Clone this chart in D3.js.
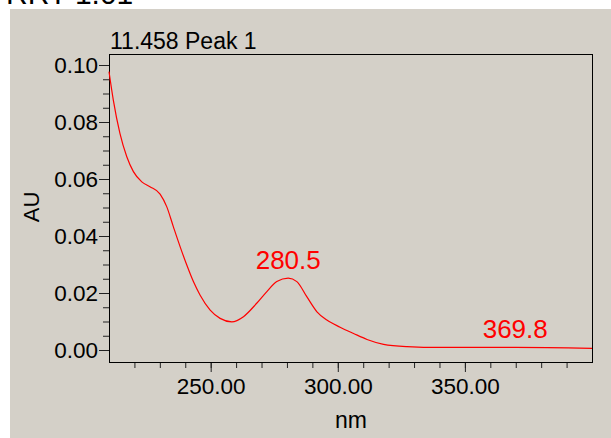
<!DOCTYPE html>
<html>
<head>
<meta charset="utf-8">
<script src="https://cdn.jsdelivr.net/npm/d3@7"></script>
<style>
  body { margin: 0; background: #fff; }
  svg { display: block; }
  text { font-family: "Liberation Sans", Arial, sans-serif; }
</style>
</head>
<body>
<svg id="chart"></svg>
<script>
// spectrum
const wavelengths = [210, 211.7, 214.3, 217, 219.6, 222.9, 226.1, 230.1, 232.7, 235.3, 238, 240.6, 243.2, 245.8, 249.8, 253.7, 258.3, 262.9, 268.1, 272.1, 276, 280.5, 283.9, 287.8, 291.8, 295.7, 300.9, 306.2, 311.5, 318, 327.2, 340.3, 369.8, 400]
const absorbance = [0.0977, 0.0877, 0.076, 0.0678, 0.0626, 0.059, 0.0573, 0.0547, 0.0503, 0.0433, 0.0362, 0.0298, 0.024, 0.0193, 0.014, 0.0111, 0.0099, 0.0117, 0.0164, 0.0205, 0.024, 0.0252, 0.024, 0.0187, 0.0134, 0.0105, 0.008, 0.0058, 0.0037, 0.002, 0.0012, 0.0009, 0.0009, 0.0006]

// labelled maxima
const peakNm = [280.5, 369.8]
const peakAU = [0.0252, 0.0009]

const xTicks = [250, 300, 350]
const yTicks = [0, 0.02, 0.04, 0.06, 0.08, 0.10]

const width = 611
const height = 438
const margin = { left: 109, top: 54, right: 592, bottom: 362 }

const svg = d3.select("#chart")
  .attr("width", width)
  .attr("height", height)

// caption above the panel, cut off at the top as in the source
svg.append("text")
  .attr("x", 6)
  .attr("y", 4)
  .attr("font-family", "Liberation Serif, Times New Roman, serif")
  .attr("font-size", 30)
  .text("RRT 1.01")

svg.append("rect")
  .attr("x", 10)
  .attr("y", 9)
  .attr("width", width - 10)
  .attr("height", height - 9)
  .attr("fill", "#d4d0c8")

const x = d3.scaleLinear().domain([210, 400]).range([margin.left, margin.right])
const y = d3.scaleLinear().domain([-12 / 2850, 0.10 + 11 / 2850]).range([margin.bottom, margin.top])

// minor ticks
svg.append("g")
  .attr("transform", `translate(0,${margin.bottom})`)
  .call(d3.axisBottom(x).tickValues(d3.range(220, 400, 10)).tickSize(6).tickFormat(""))
  .call(g => g.select(".domain").remove())

svg.append("g")
  .attr("transform", `translate(${margin.left},0)`)
  .call(d3.axisLeft(y).tickValues(d3.range(0, 0.1001, 0.005)).tickSize(6).tickFormat(""))
  .call(g => g.select(".domain").remove())

// major ticks + labels
const xAxis = svg.append("g")
  .attr("transform", `translate(0,${margin.bottom})`)
  .call(d3.axisBottom(x).tickValues(xTicks).tickSize(10).tickPadding(6).tickFormat(d3.format(".2f")))
xAxis.select(".domain").remove()
xAxis.selectAll("text").attr("font-size", 22.5).attr("font-family", "Liberation Sans, Arial, sans-serif").attr("fill", "#000")

const yAxis = svg.append("g")
  .attr("transform", `translate(${margin.left},0)`)
  .call(d3.axisLeft(y).tickValues(yTicks).tickSize(10).tickPadding(1).tickFormat(d3.format(".2f")))
yAxis.select(".domain").remove()
yAxis.selectAll("text").attr("font-size", 22.5).attr("font-family", "Liberation Sans, Arial, sans-serif").attr("fill", "#000")

svg.selectAll(".tick line").attr("stroke", "#222")

// frame
svg.append("rect")
  .attr("x", margin.left)
  .attr("y", margin.top)
  .attr("width", margin.right - margin.left)
  .attr("height", margin.bottom - margin.top)
  .attr("fill", "none")
  .attr("stroke", "#000")
  .attr("stroke-width", 1)
  .attr("shape-rendering", "crispEdges")

const line = d3.line()
  .x((d, i) => x(wavelengths[i]))
  .y(d => y(d))
  .curve(d3.curveMonotoneX)

svg.append("path")
  .datum(absorbance)
  .attr("fill", "none")
  .attr("stroke", "#ff0000")
  .attr("stroke-width", 1.2)
  .attr("d", line)

svg.selectAll(".peak")
  .data(peakNm)
  .join("text")
  .attr("class", "peak")
  .attr("x", d => x(d))
  .attr("y", (d, i) => y(peakAU[i]) - 9)
  .attr("text-anchor", "middle")
  .attr("font-size", 26)
  .attr("fill", "#ff0000")
  .text(d => d.toFixed(1))

// titles
svg.append("text")
  .attr("x", 110)
  .attr("y", 49)
  .attr("font-size", 23)
  .text("11.458 Peak 1")

svg.append("text")
  .attr("x", (margin.left + margin.right) / 2 + 0.5)
  .attr("y", 428)
  .attr("text-anchor", "middle")
  .attr("font-size", 23)
  .text("nm")

svg.append("text")
  .attr("transform", "translate(39,207) rotate(-90)")
  .attr("text-anchor", "middle")
  .attr("font-size", 22)
  .text("AU")
</script>
</body>
</html>
